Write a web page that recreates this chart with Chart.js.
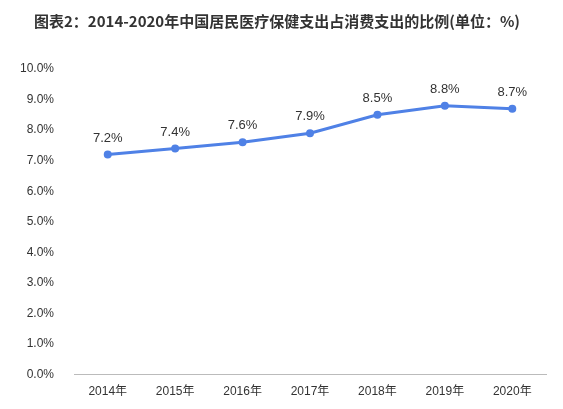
<!DOCTYPE html>
<html><head><meta charset="utf-8">
<script src="https://cdn.jsdelivr.net/npm/chart.js@4"></script>
<style>body{margin:0;background:#fff}#w{width:563px;height:409px;position:relative}</style>
</head><body><div id="w"><canvas id="c"></canvas></div>
<script>
const categories=['2014年','2015年','2016年','2017年','2018年','2019年','2020年'];
const values=[7.2,7.4,7.6,7.9,8.5,8.8,8.7];
const titleText='图表2：2014-2020年中国居民医疗保健支出占消费支出的比例(单位：%)';
const labelPlugin={id:'lbl',afterDatasetsDraw(ch){const ctx=ch.ctx;const m=ch.getDatasetMeta(0);ctx.save();ctx.font='13px "Liberation Sans", Arial, sans-serif';ctx.fillStyle='#333';ctx.textAlign='center';ctx.textBaseline='bottom';m.data.forEach((p,i)=>ctx.fillText(values[i].toFixed(1)+'%',p.x,p.y-10));ctx.restore();}};
new Chart(document.getElementById('c'),{type:'line',data:{labels:categories,datasets:[{data:values,borderColor:'#4f81e6',backgroundColor:'#4f81e6',borderWidth:3,pointRadius:2.5,pointBackgroundColor:'#4f81e6',tension:0}]},
options:{responsive:true,maintainAspectRatio:false,animation:false,layout:{padding:{left:8,right:17,top:8,bottom:0}},
plugins:{legend:{display:false},tooltip:{enabled:false},title:{display:true,text:titleText,color:'#333',font:{size:15,weight:'bold',family:'"Noto Sans CJK SC", sans-serif'},padding:{top:4,bottom:39}}},
scales:{x:{offset:true,grid:{display:false,drawTicks:false},border:{color:'#bbb'},ticks:{color:'#333',padding:10,font:{size:12,family:'"Liberation Sans","Noto Sans CJK SC",sans-serif'}}},
y:{min:0,max:10,grid:{display:false},border:{display:false},ticks:{stepSize:1,padding:12,color:'#333',font:{size:12,family:'"Liberation Sans",Arial,sans-serif'},callback:v=>v.toFixed(1)+'%'}}}},
plugins:[labelPlugin]});
</script></body></html>
